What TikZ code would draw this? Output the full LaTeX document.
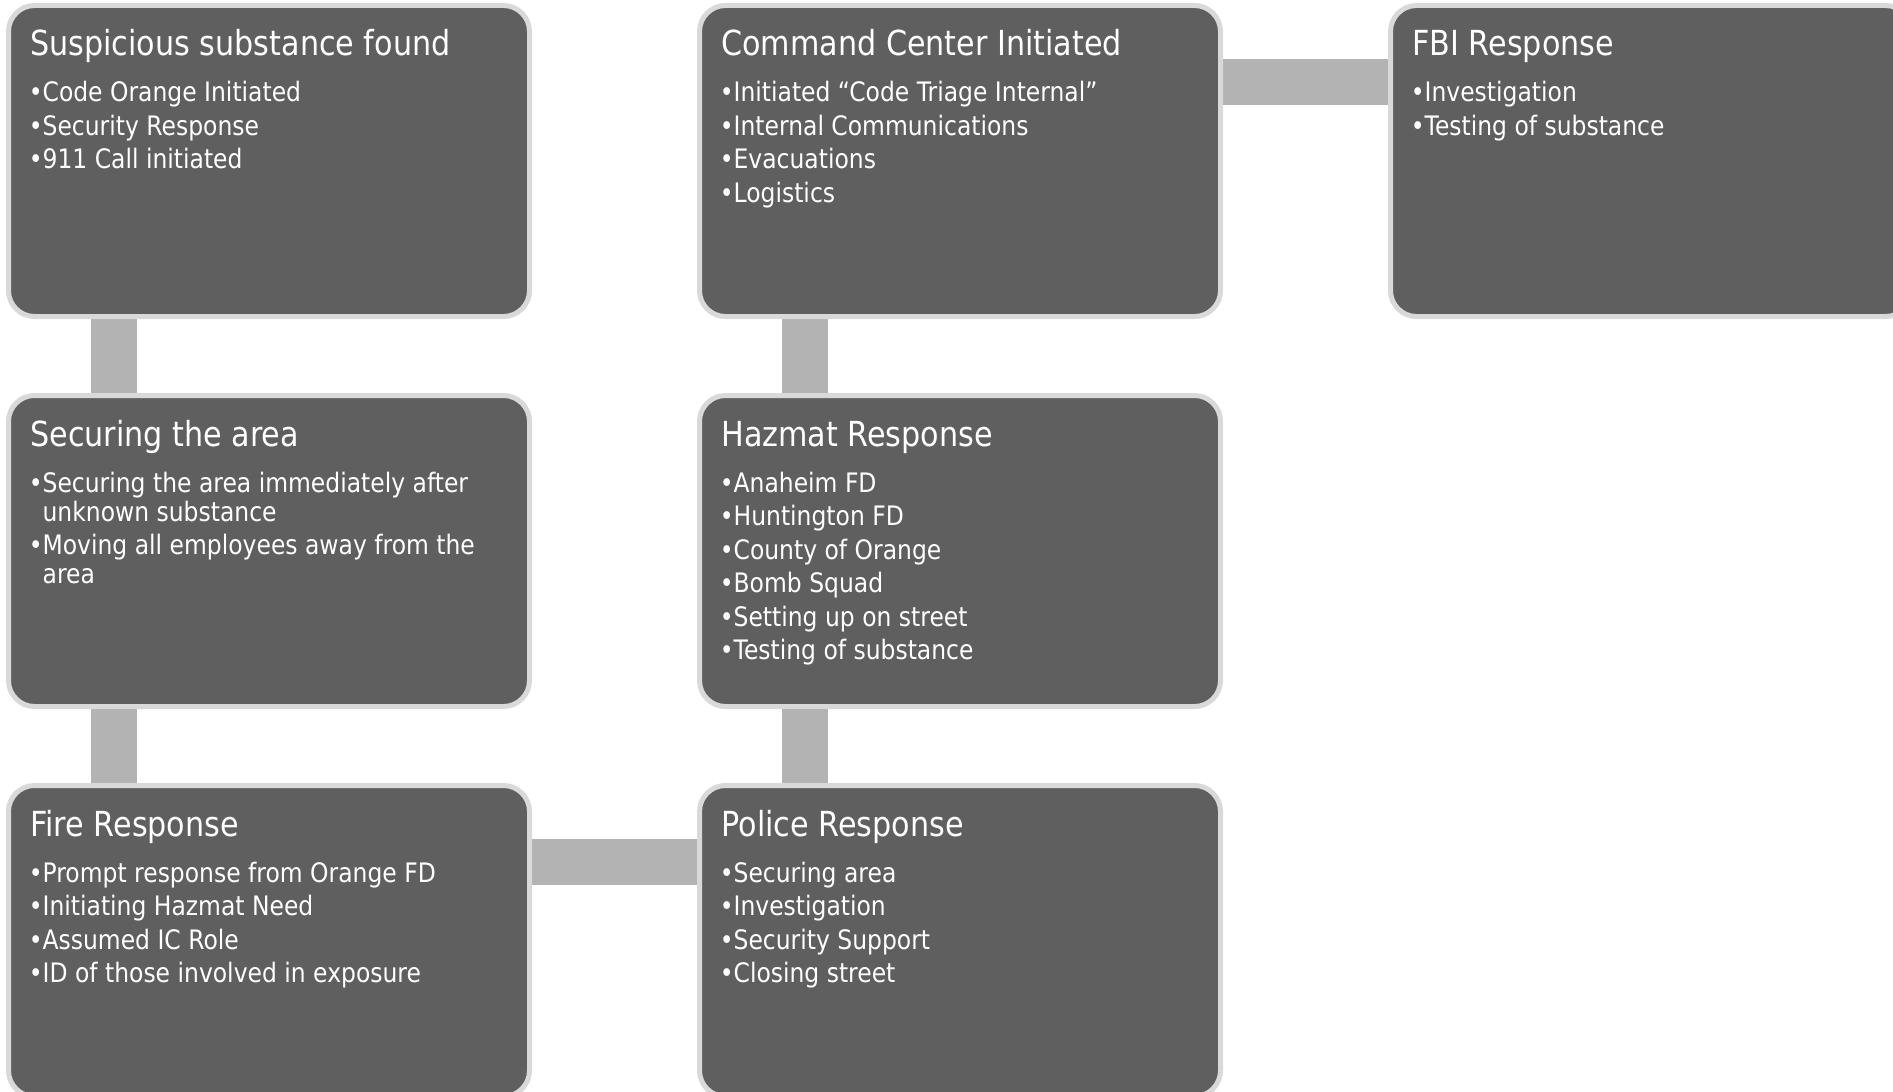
\documentclass[tikz,border=0pt]{standalone}
\usepackage{fontspec}
\setmainfont{DejaVu Sans}[FakeStretch=0.875]
\usetikzlibrary{positioning,backgrounds}
\definecolor{panelfill}{HTML}{5F5F5F}
\definecolor{panelrim}{HTML}{D9D9D9}
\definecolor{linkgray}{HTML}{B3B3B3}
\newlength\dotwd
\newcommand\pitem[1]{\settowidth{\dotwd}{\textbullet}\noindent\hangindent=\dotwd\hangafter=1\textbullet#1\par\vskip2.25pt}
\begin{document}
\begin{tikzpicture}[x=0.5pt, y=-0.5pt, node distance=37pt and 82.5pt,
    panel/.style={draw=panelrim, line width=2.5pt, fill=panelfill, rounded corners=13pt,
      minimum width=260.5pt, minimum height=155.5pt, inner sep=0pt},
    head/.style={anchor=base west, inner sep=0pt, text=white, font=\fontsize{17.25}{20}\selectfont},
    items/.style={anchor=base west, inner sep=0pt, text=white, font=\fontsize{13.4}{14.5}\selectfont},
    link/.style={draw=linkgray, line width=23pt, shorten <=-2pt, shorten >=-2pt}]
    \useasboundingbox (0,0) rectangle (1893,1091);
    % boxes
    \node[panel, anchor=north west] (found) at (6,3) {};
    \node[panel, right=of found] (command) {};
    \node[panel, right=of command] (fbi) {};
    \node[panel, below=of found] (secure) {};
    \node[panel, below=of command] (hazmat) {};
    \node[panel, below=of secure] (fire) {};
    \node[panel, below=of hazmat] (police) {};
    % titles
    \node[head] (found-h) at ([xshift=12pt, yshift=-26.5pt]found.north west) {Suspicious substance found};
    \node[head] (command-h) at ([xshift=12pt, yshift=-26.5pt]command.north west) {Command Center Initiated};
    \node[head] (fbi-h) at ([xshift=12pt, yshift=-26.5pt]fbi.north west) {FBI Response};
    \node[head] (secure-h) at ([xshift=12pt, yshift=-26.5pt]secure.north west) {Securing the area};
    \node[head] (hazmat-h) at ([xshift=12pt, yshift=-26.5pt]hazmat.north west) {Hazmat Response};
    \node[head] (fire-h) at ([xshift=12pt, yshift=-26.5pt]fire.north west) {Fire Response};
    \node[head] (police-h) at ([xshift=12pt, yshift=-26.5pt]police.north west) {Police Response};
    % bullet lists
    \node[items] (found-l) at ([xshift=11.2pt, yshift=-49.5pt]found.north west) {\parbox[t]{240pt}{\raggedright
      \pitem{Code Orange Initiated}\pitem{Security Response}\pitem{911 Call initiated}}};
    \node[items] (command-l) at ([xshift=11.2pt, yshift=-49.5pt]command.north west) {\parbox[t]{240pt}{\raggedright
      \pitem{Initiated “Code Triage Internal”}\pitem{Internal Communications}\pitem{Evacuations}\pitem{Logistics}}};
    \node[items] (fbi-l) at ([xshift=11.2pt, yshift=-49.5pt]fbi.north west) {\parbox[t]{240pt}{\raggedright
      \pitem{Investigation}\pitem{Testing of substance}}};
    \node[items] (secure-l) at ([xshift=11.2pt, yshift=-49.5pt]secure.north west) {\parbox[t]{240pt}{\raggedright
      \pitem{Securing the area immediately after\newline unknown substance}\pitem{Moving all employees away from the\newline area}}};
    \node[items] (hazmat-l) at ([xshift=11.2pt, yshift=-49.5pt]hazmat.north west) {\parbox[t]{240pt}{\raggedright
      \pitem{Anaheim FD}\pitem{Huntington FD}\pitem{County of Orange}\pitem{Bomb Squad}\pitem{Setting up on street}\pitem{Testing of substance}}};
    \node[items] (fire-l) at ([xshift=11.2pt, yshift=-49.5pt]fire.north west) {\parbox[t]{240pt}{\raggedright
      \pitem{Prompt response from Orange FD}\pitem{Initiating Hazmat Need}\pitem{Assumed IC Role}\pitem{ID of those involved in exposure}}};
    \node[items] (police-l) at ([xshift=11.2pt, yshift=-49.5pt]police.north west) {\parbox[t]{240pt}{\raggedright
      \pitem{Securing area}\pitem{Investigation}\pitem{Security Support}\pitem{Closing street}}};
    % connectors
    \begin{scope}[on background layer]
        \draw[link] ([xshift=54pt]found.south west) -- ([xshift=54pt]secure.north west);
        \draw[link] ([xshift=54pt]secure.south west) -- ([xshift=54pt]fire.north west);
        \draw[link] ([xshift=54pt]command.south west) -- ([xshift=54pt]hazmat.north west);
        \draw[link] ([xshift=54pt]hazmat.south west) -- ([xshift=54pt]police.north west);
        \draw[link] ([yshift=-39.5pt]command.north east) -- ([yshift=-39.5pt]fbi.north west);
        \draw[link] ([yshift=-39.5pt]fire.north east) -- ([yshift=-39.5pt]police.north west);
    \end{scope}
\end{tikzpicture}
\end{document}
